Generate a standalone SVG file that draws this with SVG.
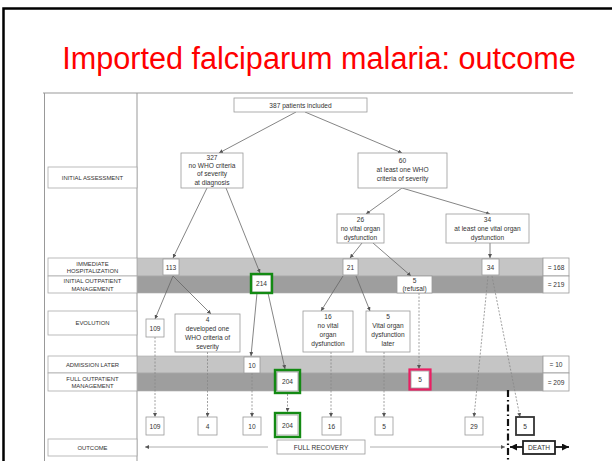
<svg xmlns="http://www.w3.org/2000/svg" width="612" height="461" viewBox="0 0 612 461">
<defs>
<style>
text{font-family:"Liberation Sans",Arial,sans-serif;fill:#333;text-anchor:middle}
.t{font-size:6.6px}
.lb{font-size:5.9px}
.box{fill:#fff;stroke:#999;stroke-width:0.8}
.lbox{fill:#fff;stroke:#aaa;stroke-width:0.8}
.light{fill:#c5c5c5;stroke:#aaa;stroke-width:0.6}
.dark{fill:#9e9e9e;stroke:#aaa;stroke-width:0.6}
.ln{stroke:#666;stroke-width:0.8;fill:none}
.dl{stroke:#888;stroke-width:0.8;fill:none;stroke-dasharray:2 1.5}
.green{fill:none;stroke:#138a13;stroke-width:2.4}
</style>
<marker id="ah" viewBox="0 0 6 6" refX="6" refY="3" markerWidth="4" markerHeight="4" orient="auto" markerUnits="userSpaceOnUse"><path d="M0,0 L6,3 L0,6 z" fill="#555"/></marker>
<marker id="ahb" viewBox="0 0 6 6" refX="6" refY="3" markerWidth="7" markerHeight="7" orient="auto" markerUnits="userSpaceOnUse"><path d="M0,0 L6,3 L0,6 z" fill="#111"/></marker>
</defs>
<rect width="612" height="461" fill="#fff"/>
<path d="M3.5,461 V8.5 H612" fill="none" stroke="#000" stroke-width="2.5"/>
<text x="319" y="69" style="font-size:30.6px;fill:#ff0000">Imported falciparum malaria: outcome</text>

<g id="frame">
<path d="M43,93 H573 M44.5,93 V461 M137,93 V461" fill="none" stroke="#999" stroke-width="1"/>
</g>

<g id="bands">
<rect class="light" x="137" y="258" width="406" height="18"/>
<rect class="dark" x="137" y="276" width="406" height="17"/>
<rect class="light" x="137" y="356" width="406" height="17"/>
<rect class="dark" x="137" y="373" width="406" height="18"/>
</g>

<g id="labels">
<rect class="lbox" x="48" y="167" width="89" height="21"/><text class="lb" x="92.5" y="180">INITIAL ASSESSMENT</text>
<rect class="lbox" x="48" y="258" width="89" height="18"/><text class="lb" x="92.5" y="265.5">IMMEDIATE</text><text class="lb" x="92.5" y="273">HOSPITALIZATION</text>
<rect class="lbox" x="48" y="276" width="89" height="17"/><text class="lb" x="92.5" y="283">INITIAL OUTPATIENT</text><text class="lb" x="92.5" y="290.5">MANAGEMENT</text>
<rect class="lbox" x="48" y="311" width="89" height="24"/><text class="lb" x="92.5" y="325">EVOLUTION</text>
<rect class="lbox" x="48" y="356" width="89" height="17"/><text class="lb" x="92.5" y="367">ADMISSION LATER</text>
<rect class="lbox" x="48" y="373" width="89" height="18"/><text class="lb" x="92.5" y="380.5">FULL OUTPATIENT</text><text class="lb" x="92.5" y="388">MANAGEMENT</text>
<rect class="lbox" x="48" y="439" width="89" height="17"/><text class="lb" x="92.5" y="450">OUTCOME</text>
</g>

<g id="connectors">
<line class="ln" x1="296" y1="112" x2="219" y2="153" marker-end="url(#ah)"/>
<line class="ln" x1="305" y1="112" x2="402" y2="153" marker-end="url(#ah)"/>
<line class="ln" x1="207" y1="188" x2="173" y2="258" marker-end="url(#ah)"/>
<line class="ln" x1="226" y1="188" x2="260" y2="273" marker-end="url(#ah)"/>
<line class="ln" x1="402" y1="188" x2="366" y2="214" marker-end="url(#ah)"/>
<line class="ln" x1="402" y1="188" x2="490" y2="214" marker-end="url(#ah)"/>
<line class="ln" x1="362" y1="243" x2="350" y2="258" marker-end="url(#ah)"/>
<line class="ln" x1="373" y1="243" x2="411" y2="276" marker-end="url(#ah)"/>
<line class="ln" x1="490" y1="243" x2="490" y2="258" marker-end="url(#ah)"/>
<line class="ln" x1="173" y1="276" x2="155" y2="319" marker-end="url(#ah)"/>
<line class="ln" x1="173" y1="276" x2="211" y2="314" marker-end="url(#ah)"/>
<line class="ln" x1="257" y1="293" x2="251" y2="356" marker-end="url(#ah)"/>
<line class="ln" x1="268" y1="293" x2="285" y2="369" marker-end="url(#ah)"/>
<line class="ln" x1="343" y1="276" x2="321" y2="311" marker-end="url(#ah)"/>
<line class="ln" x1="356" y1="276" x2="370" y2="311" marker-end="url(#ah)"/>
<line class="dl" x1="155" y1="337" x2="155" y2="417" marker-end="url(#ah)"/>
<line class="dl" x1="207.5" y1="352" x2="207.5" y2="417" marker-end="url(#ah)"/>
<line class="dl" x1="252" y1="373" x2="252" y2="417" marker-end="url(#ah)"/>
<line class="dl" x1="287.5" y1="394" x2="287.5" y2="412" marker-end="url(#ah)"/>
<line class="dl" x1="331" y1="352" x2="331" y2="417" marker-end="url(#ah)"/>
<line class="dl" x1="384" y1="352" x2="384" y2="417" marker-end="url(#ah)"/>
<line class="dl" x1="419" y1="293" x2="419" y2="369" marker-end="url(#ah)"/>
<line class="dl" x1="488" y1="276" x2="474" y2="417" marker-end="url(#ah)"/>
<line class="dl" x1="492" y1="276" x2="520" y2="417" marker-end="url(#ah)"/>
<line x1="268" y1="447" x2="145" y2="447" stroke="#999" stroke-width="0.8" marker-end="url(#ah)"/>
<line x1="370" y1="447" x2="505" y2="447" stroke="#999" stroke-width="0.8" marker-end="url(#ah)"/>
<line x1="508" y1="390" x2="508" y2="461" stroke="#111" stroke-width="2.2" stroke-dasharray="7 3 1.5 3"/>
<line x1="523" y1="447" x2="510" y2="447" stroke="#111" stroke-width="1.8" marker-end="url(#ahb)"/>
<line x1="555" y1="447" x2="569" y2="447" stroke="#111" stroke-width="1.8" marker-end="url(#ahb)"/>
</g>

<g id="n387"><rect class="box" x="234" y="98" width="133" height="14"/><text class="t" x="300.5" y="107.5">387 patients included</text></g>
<g id="n327"><rect class="box" x="181" y="153" width="62" height="35"/><text class="t" x="212" y="160">327</text><text class="t" x="212" y="168">no WHO criteria</text><text class="t" x="212" y="176">of severity</text><text class="t" x="212" y="184.5">at diagnosis</text></g>
<g id="n60"><rect class="box" x="358" y="153" width="89" height="35"/><text class="t" x="402.5" y="163">60</text><text class="t" x="402.5" y="172">at least one WHO</text><text class="t" x="402.5" y="181">criteria of severity</text></g>
<g id="n26"><rect class="box" x="337" y="214" width="47" height="29"/><text class="t" x="360.5" y="221.5">26</text><text class="t" x="360.5" y="230.5">no vital organ</text><text class="t" x="360.5" y="239.5">dysfunction</text></g>
<g id="n34"><rect class="box" x="446" y="214" width="83" height="29"/><text class="t" x="487.5" y="221.5">34</text><text class="t" x="487.5" y="230.5">at least one vital organ</text><text class="t" x="487.5" y="239.5">dysfunction</text></g>

<g id="n113"><rect class="box" x="163" y="259" width="16" height="16"/><text class="t" x="171" y="269.5">113</text></g>
<g id="n214"><rect class="box" x="252" y="275" width="19" height="17"/><rect class="green" x="251" y="274" width="21" height="19"/><text class="t" x="261.5" y="286">214</text></g>
<g id="n21"><rect class="box" x="343" y="259" width="15" height="16"/><text class="t" x="350.5" y="269.5">21</text></g>
<g id="nref"><rect class="box" x="397" y="276" width="35" height="17"/><text class="t" x="414.5" y="283">5</text><text class="t" x="414.5" y="291">(refusal)</text></g>
<g id="n34b"><rect class="box" x="482" y="259" width="17" height="16"/><text class="t" x="490.5" y="269.5">34</text></g>
<g id="c168"><rect class="box" x="543" y="258" width="26" height="18"/><text class="t" x="556" y="269.5">= 168</text></g>
<g id="c219"><rect class="box" x="543" y="276" width="26" height="17"/><text class="t" x="556" y="287">= 219</text></g>

<g id="e109"><rect class="box" x="146" y="319" width="18" height="18"/><text class="t" x="155" y="330.5">109</text></g>
<g id="e4"><rect class="box" x="175" y="314" width="65" height="38"/><text class="t" x="207.5" y="322">4</text><text class="t" x="207.5" y="331">developed one</text><text class="t" x="207.5" y="340">WHO criteria of</text><text class="t" x="207.5" y="349">severity</text></g>
<g id="e16"><rect class="box" x="303" y="311" width="50" height="41"/><text class="t" x="328" y="319">16</text><text class="t" x="328" y="328">no vital</text><text class="t" x="328" y="337">organ</text><text class="t" x="328" y="346">dysfunction</text></g>
<g id="e5"><rect class="box" x="366" y="311" width="44" height="41"/><text class="t" x="388" y="319">5</text><text class="t" x="388" y="328">Vital organ</text><text class="t" x="388" y="337">dysfunction</text><text class="t" x="388" y="346">later</text></g>

<g id="a10"><rect class="box" x="244" y="357" width="16" height="16"/><text class="t" x="252" y="367.5">10</text></g>
<g id="f204"><rect class="box" x="277" y="372" width="21" height="19"/><rect class="green" x="275" y="370" width="25" height="23"/><text class="t" x="287.5" y="384">204</text></g>
<g id="f5"><rect class="box" x="411" y="371" width="18" height="17"/><rect fill="none" stroke="#ea1f63" stroke-width="2.2" x="409.5" y="369.5" width="21" height="20"/><text class="t" x="420" y="382">5</text></g>
<g id="c10"><rect class="box" x="543" y="356" width="26" height="17"/><text class="t" x="556" y="367">= 10</text></g>
<g id="c209"><rect class="box" x="543" y="373" width="26" height="18"/><text class="t" x="556" y="384.5">= 209</text></g>

<g id="o109"><rect class="box" x="146" y="417" width="18" height="18"/><text class="t" x="155" y="428.5">109</text></g>
<g id="o4"><rect class="box" x="198" y="417" width="19" height="18"/><text class="t" x="207.5" y="428.5">4</text></g>
<g id="o10"><rect class="box" x="243" y="417" width="18" height="18"/><text class="t" x="252" y="428.5">10</text></g>
<g id="o204"><rect class="box" x="277" y="415" width="21" height="20"/><rect class="green" x="275" y="413" width="25" height="24"/><text class="t" x="287.5" y="428">204</text></g>
<g id="o16"><rect class="box" x="322" y="417" width="19" height="18"/><text class="t" x="331.5" y="428.5">16</text></g>
<g id="o5"><rect class="box" x="375" y="417" width="18" height="18"/><text class="t" x="384" y="428.5">5</text></g>
<g id="o29"><rect class="box" x="465" y="417" width="18" height="18"/><text class="t" x="474" y="428.5">29</text></g>
<g id="o5d"><rect fill="#fff" stroke="#333" stroke-width="1.8" x="516" y="417" width="18" height="18"/><text class="t" x="525" y="428.5">5</text></g>
<g id="recovery"><rect class="box" x="277" y="440" width="88" height="14"/><text class="t" x="321" y="449.5">FULL RECOVERY</text></g>
<g id="death"><rect fill="#fff" stroke="#222" stroke-width="1.8" x="523" y="441" width="32" height="13"/><text class="t" x="539" y="449.8">DEATH</text></g>
</svg>
